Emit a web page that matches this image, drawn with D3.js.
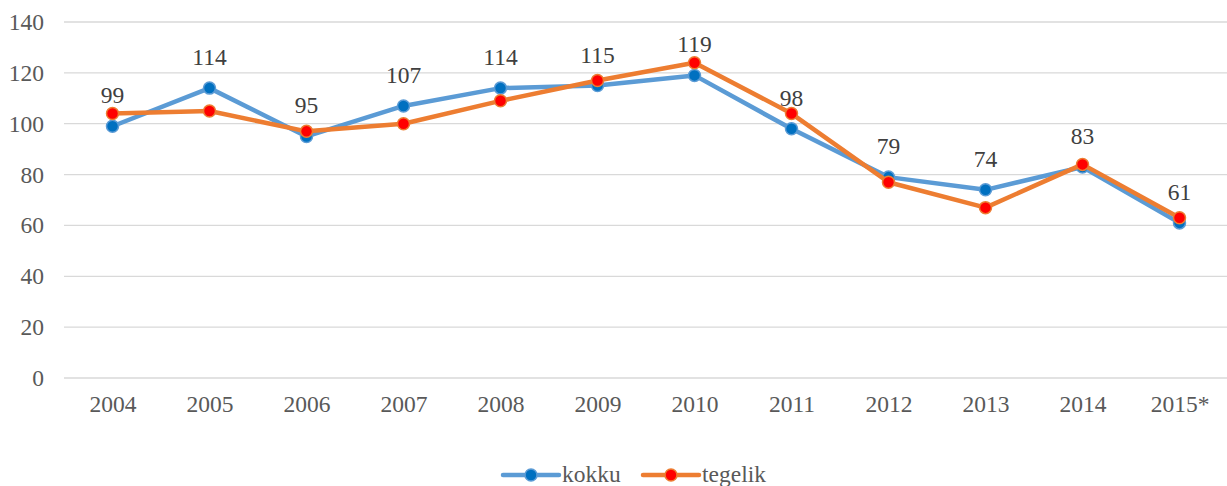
<!DOCTYPE html>
<html>
<head>
<meta charset="utf-8">
<script src="https://cdn.jsdelivr.net/npm/d3@7"></script>
<style>
  body { margin: 0; background: #fff; }
  svg, svg text { font-family: 'Liberation Serif', 'Times New Roman', serif !important; }
</style>
</head>
<body>
<svg width="1227" height="486"></svg>
<script>
var years = ['2004', '2005', '2006', '2007', '2008', '2009', '2010', '2011', '2012', '2013', '2014', '2015*'];
var kokku = [99, 114, 95, 107, 114, 115, 119, 98, 79, 74, 83, 61];
var tegelik = [104, 105, 97, 100, 109, 117, 124, 104, 77, 67, 84, 63];
var yTicks = [0, 20, 40, 60, 80, 100, 120, 140];

var svg = d3.select('svg');

var xScale = d3.scalePoint()
  .domain(years)
  .range([64, 1228])
  .padding(0.5);

var yScale = d3.scaleLinear()
  .domain([0, 140])
  .range([378, 22]);

// gridlines
svg.append('g').selectAll('line').data(yTicks).enter().append('line')
  .attr('x1', 64).attr('x2', 1227)
  .attr('y1', function(d) { return yScale(d); })
  .attr('y2', function(d) { return yScale(d); })
  .attr('stroke', '#d9d9d9')
  .attr('stroke-width', 1.3);

var yAxis = d3.axisLeft(yScale).tickValues(yTicks).tickSize(0).tickPadding(0);
var yAxisGroup = svg.append('g')
  .attr('transform', 'translate(44,0)')
  .call(yAxis)
  .attr('font-family', null);
yAxisGroup.select('.domain').remove();
yAxisGroup.selectAll('text')
  .attr('fill', '#595959')
  .style('font-size', '23.5px');

var xAxis = d3.axisBottom(xScale).tickSize(0).tickPadding(0);
var xAxisGroup = svg.append('g')
  .attr('transform', 'translate(0,395)')
  .call(xAxis)
  .attr('font-family', null);
xAxisGroup.select('.domain').remove();
xAxisGroup.selectAll('text')
  .attr('fill', '#595959')
  .style('font-size', '23.5px');

var series = [
  { name: 'kokku', values: kokku, line: '#5b9bd5', fill: '#0070c0' },
  { name: 'tegelik', values: tegelik, line: '#ed7d31', fill: '#ff0000' }
];

var line = d3.line()
  .x(function(d, i) { return xScale(years[i]); })
  .y(function(d) { return yScale(d); });

series.forEach(function(s) {
  svg.append('path')
    .datum(s.values)
    .attr('d', line)
    .attr('fill', 'none')
    .attr('stroke', s.line)
    .attr('stroke-width', 4.5)
    .attr('stroke-linejoin', 'round');
  svg.append('g').selectAll('circle').data(s.values).enter().append('circle')
    .attr('cx', function(d, i) { return xScale(years[i]); })
    .attr('cy', function(d) { return yScale(d); })
    .attr('r', 6)
    .attr('fill', s.fill)
    .attr('stroke', s.line)
    .attr('stroke-width', 1.5);
});

// data labels for kokku
svg.append('g').selectAll('text').data(kokku).enter().append('text')
  .text(function(d) { return d; })
  .attr('x', function(d, i) { return xScale(years[i]); })
  .attr('y', function(d) { return yScale(d) - 23; })
  .attr('text-anchor', 'middle')
  .attr('fill', '#404040')
  .style('font-size', '23.5px');

// legend
var legend = svg.append('g');
var legendItems = [
  { x: 503, s: series[0] },
  { x: 643, s: series[1] }
];
legendItems.forEach(function(it) {
  legend.append('line')
    .attr('x1', it.x).attr('x2', it.x + 56)
    .attr('y1', 475).attr('y2', 475)
    .attr('stroke', it.s.line)
    .attr('stroke-width', 4.5)
    .attr('stroke-linecap', 'round');
  legend.append('circle')
    .attr('cx', it.x + 28).attr('cy', 475).attr('r', 6)
    .attr('fill', it.s.fill)
    .attr('stroke', it.s.line)
    .attr('stroke-width', 1.5);
  legend.append('text')
    .attr('x', it.x + 59).attr('y', 482)
    .text(it.s.name)
    .attr('fill', '#595959')
    .style('font-size', '23.5px');
});
</script>
</body>
</html>
